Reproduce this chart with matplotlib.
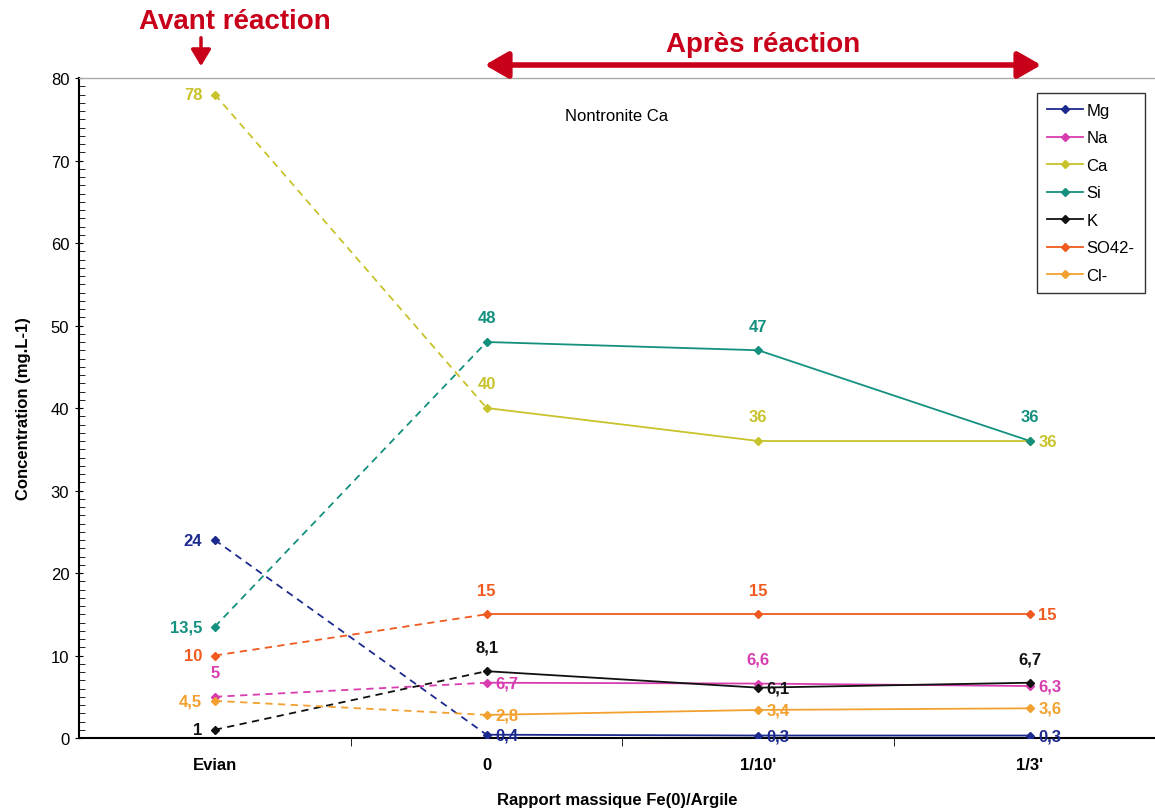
import matplotlib
matplotlib.use("Agg")
import matplotlib.pyplot as plt
from matplotlib.ticker import MultipleLocator, FixedLocator

# Donnees
categories = ["Evian", "0", "1/10'", "1/3'"]
series = ["Mg", "Na", "Ca", "Si", "K", "SO42-", "Cl-"]
mg = [24, 0.4, 0.3, 0.3]
na = [5, 6.7, 6.6, 6.3]
ca = [78, 40, 36, 36]
si = [13.5, 48, 47, 36]
k = [1, 8.1, 6.1, 6.7]
so4 = [10, 15, 15, 15]
cl = [4.5, 2.8, 3.4, 3.6]
labels_mg = ["24", "0,4", "0,3", "0,3"]
labels_na = ["5", "6,7", "6,6", "6,3"]
labels_ca = ["78", "40", "36", "36"]
labels_si = ["13,5", "48", "47", "36"]
labels_k = ["1", "8,1", "6,1", "6,7"]
labels_so4 = ["10", "15", "15", "15"]
labels_cl = ["4,5", "2,8", "3,4", "3,6"]

couleurs = ["#1c2a8e", "#d83cae", "#c8c22c", "#14907e", "#111111", "#f05a1e", "#f2a030"]
# position des etiquettes: l=gauche, r=droite, a=dessus
pos_mg = ["l", "r", "r", "r"]
pos_na = ["a", "r", "a", "r"]
pos_ca = ["l", "a", "a", "r"]
pos_si = ["l", "a", "a", "a"]
pos_k = ["l", "a", "r", "a"]
pos_so4 = ["l", "a", "a", "r"]
pos_cl = ["l", "r", "r", "r"]

donnees = [mg, na, ca, si, k, so4, cl]
etiquettes = [labels_mg, labels_na, labels_ca, labels_si, labels_k, labels_so4, labels_cl]
positions = [pos_mg, pos_na, pos_ca, pos_si, pos_k, pos_so4, pos_cl]

plt.rcParams['font.family'] = ['Liberation Sans', 'DejaVu Sans']

fig = plt.figure(figsize=(11.55, 8.12), dpi=100)
ax = fig.add_axes([0.0684, 0.0899, 1.0 - 0.0684, 0.9027 - 0.0899])

x = list(range(len(categories)))
for nom, y, c, labs, pos in zip(series, donnees, couleurs, etiquettes, positions):
    # segment Evian -> 0 en pointilles
    ax.plot(x[:2], y[:2], color=c, lw=1.3, ls=(0, (4, 3)), zorder=2)
    ax.plot(x[1:], y[1:], color=c, lw=1.3, zorder=2)
    ax.plot(x, y, ls='none', marker='D', ms=4.5, color=c, zorder=3)
    ax.plot([], [], color=c, lw=1.3, marker='D', ms=4.5, label=nom)
    for xi, yi, t, p in zip(x, y, labs, pos):
        if p == "l":
            ax.annotate(t, (xi, yi), xytext=(-9, 0), textcoords='offset points',
                        ha='right', va='center', color=c, fontsize=12, fontweight='bold')
        elif p == "r":
            ax.annotate(t, (xi, yi), xytext=(6, 0), textcoords='offset points',
                        ha='left', va='center', color=c, fontsize=12, fontweight='bold')
        else:
            ax.annotate(t, (xi, yi), xytext=(0, 12), textcoords='offset points',
                        ha='center', va='bottom', color=c, fontsize=12, fontweight='bold')

ax.set_xlim(-0.5, 3.46)
ax.set_ylim(0, 80)
ax.set_xticks(x)
ax.set_xticklabels(categories, fontsize=12, fontweight='bold')
ax.xaxis.set_minor_locator(FixedLocator([0.5, 1.5, 2.5]))
ax.tick_params(axis='x', which='major', length=0, pad=14)
ax.tick_params(axis='x', which='minor', length=6, direction='out')
ax.yaxis.set_major_locator(MultipleLocator(10))
ax.yaxis.set_minor_locator(MultipleLocator(1))
ax.tick_params(axis='y', which='major', length=6, direction='inout', labelsize=12, pad=4)
ax.tick_params(axis='y', which='minor', length=4, direction='in')

ax.spines['right'].set_visible(False)
ax.spines['top'].set_color('#aaaaaa')
ax.spines['top'].set_linewidth(1.0)
ax.spines['left'].set_linewidth(1.5)
ax.spines['bottom'].set_linewidth(1.5)

ax.set_ylabel("Concentration (mg.L-1)", fontsize=12, fontweight='bold', labelpad=14)
ax.set_xlabel("Rapport massique Fe(0)/Argile", fontsize=12, fontweight='bold', labelpad=14)
ax.text(1.48, 75.5, "Nontronite Ca", ha='center', va='center', fontsize=12)

leg = ax.legend(loc='upper right', bbox_to_anchor=(0.998, 0.99), fontsize=12,
                frameon=True, fancybox=False, edgecolor='black', handlelength=2.2,
                handletextpad=0.2, labelspacing=0.75, borderpad=0.6)
leg.get_frame().set_linewidth(1.0)

# Annotations rouges au-dessus du graphique
rouge = '#c8001a'
fig.text(235 / 1155, 1 - 22 / 812, "Avant réaction", color=rouge, fontsize=20,
         fontweight='bold', ha='center', va='center',
         family=['Liberation Sans Narrow', 'Liberation Sans'])
fig.text(763 / 1155, 1 - 45 / 812, "Après réaction", color=rouge, fontsize=20,
         fontweight='bold', ha='center', va='center',
         family=['Liberation Sans Narrow', 'Liberation Sans'])
fig.patches.append(matplotlib.patches.FancyArrowPatch(
    (201 / 1155, 1 - 36 / 812), (201 / 1155, 1 - 70 / 812), transform=fig.transFigure,
    arrowstyle='-|>,head_length=10,head_width=6', color=rouge, lw=2.5, mutation_scale=1))
fig.patches.append(matplotlib.patches.FancyArrowPatch(
    (482 / 1155, 1 - 66 / 812), (1044 / 1155, 1 - 66 / 812), transform=fig.transFigure,
    arrowstyle='<|-|>,head_length=14,head_width=8', color=rouge, lw=4, mutation_scale=1))

fig.savefig("out.png", dpi=100)
